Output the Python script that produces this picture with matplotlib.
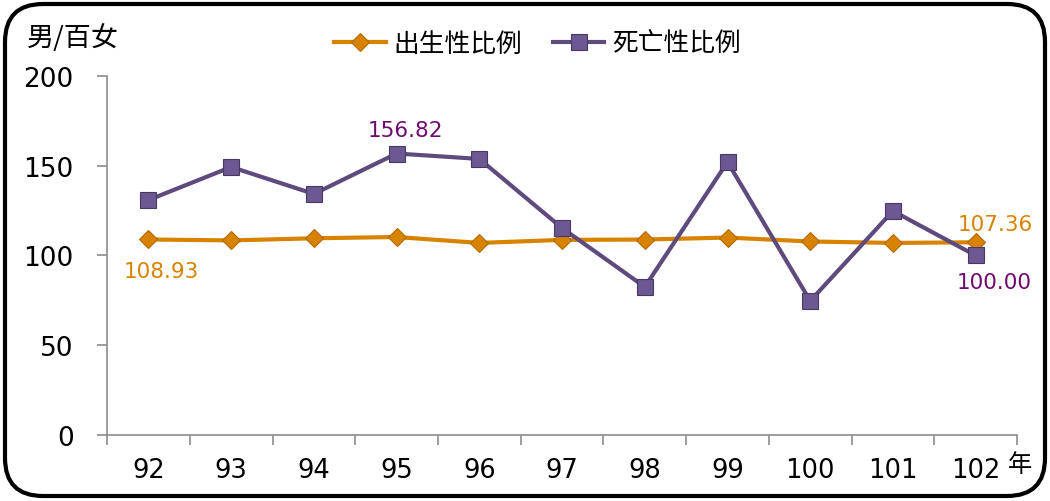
import matplotlib.pyplot as plt
from matplotlib.patches import FancyBboxPatch
import matplotlib.patheffects as pe

plt.rcParams['font.family'] = ['DejaVu Sans', 'Noto Sans CJK TC']

# 民國年份與性比例（男/百女）
years = ['92', '93', '94', '95', '96', '97', '98', '99', '100', '101', '102']
birth_ratio = [108.93, 108.4, 109.6, 110.3, 107.0, 108.7, 108.9, 110.0, 107.8, 107.0, 107.36]
death_ratio = [130.9, 149.3, 134.3, 156.82, 153.8, 115.3, 82.5, 152.1, 74.7, 124.8, 100.00]

birth_color = '#D88300'
death_color = '#5F4A7E'
label_purple = '#6E0A6E'
axis_gray = '#8C8C8C'

fig = plt.figure(figsize=(10.5, 5.02), dpi=100)
ax = fig.add_axes([0.102, 0.1315, 0.8666, 0.7151])

x = list(range(len(years)))

# soft shadow under the markers only
marker_shadow = [pe.SimpleLineShadow(offset=(1.5, -2.5), alpha=0.25, shadow_color='black')]
ax.plot(x, birth_ratio, ls='none', marker='D', ms=9, mew=0,
        path_effects=marker_shadow, zorder=2)
ax.plot(x, death_ratio, ls='none', marker='s', ms=11.5, mew=0,
        path_effects=marker_shadow, zorder=2)

ax.plot(x, birth_ratio, color=birth_color, lw=3, marker='D', ms=9,
        mfc='#D88300', mec='#B06A00', mew=0.8, label='出生性比例', zorder=3)
ax.plot(x, death_ratio, color=death_color, lw=3, marker='s', ms=11.5,
        mfc='#6C5892', mec='#47395F', mew=0.8, label='死亡性比例', zorder=4)

# 數值標示
lab_font = dict(fontsize=15.5, family=['DejaVu Sans'], ha='center', va='center',
                textcoords='offset points')
ax.annotate(f'{birth_ratio[0]:.2f}', (x[0], birth_ratio[0]), xytext=(9, -23),
            color=birth_color, **lab_font)
ax.annotate(f'{birth_ratio[-1]:.2f}', (x[-1], birth_ratio[-1]), xytext=(14, 13),
            color=birth_color, **lab_font)
ax.annotate(f'{death_ratio[3]:.2f}', (x[3], death_ratio[3]), xytext=(6, 17),
            color=label_purple, **lab_font)
ax.annotate(f'{death_ratio[-1]:.2f}', (x[-1], death_ratio[-1]), xytext=(13, -19),
            color=label_purple, **lab_font)

ax.set_xlim(-0.5, len(years) - 0.5)
ax.set_ylim(0, 200)
ax.set_yticks([0, 50, 100, 150, 200])
ax.set_xticks(x)
ax.set_xticklabels(years, fontsize=18.5)
ax.set_xticks([i - 0.5 for i in range(len(years) + 1)], minor=True)
ax.tick_params(axis='x', which='major', length=0, pad=16)
ax.tick_params(axis='x', which='minor', length=7, width=1.2, color=axis_gray)
ax.tick_params(axis='y', length=7, width=1.2, color=axis_gray, pad=17, labelsize=19)

for side in ['top', 'right']:
    ax.spines[side].set_visible(False)
for side in ['left', 'bottom']:
    ax.spines[side].set_color(axis_gray)
    ax.spines[side].set_linewidth(1.2)

ax.legend(loc='center', bbox_to_anchor=(0.473, 1.088), ncol=2, frameon=False,
          prop={'family': ['Noto Sans CJK TC'], 'size': 18.5}, handlelength=2.0,
          columnspacing=1.2, handletextpad=0.3)

fig.text(27 / 1050, 1 - 38 / 502, '男/百女', fontsize=19.5, family=['Noto Sans CJK TC'],
         ha='left', va='center')
fig.text(1008 / 1050, 1 - 465 / 502, '年', fontsize=17.5, family=['Noto Sans CJK TC'],
         ha='left', va='center')

# 圓角外框
frame = FancyBboxPatch((5, 5), 1040, 492, boxstyle='round,pad=0,rounding_size=38',
                       transform=None, fill=False, edgecolor='black', linewidth=3)
fig.patches.append(frame)

fig.savefig('out.png', dpi=100)
